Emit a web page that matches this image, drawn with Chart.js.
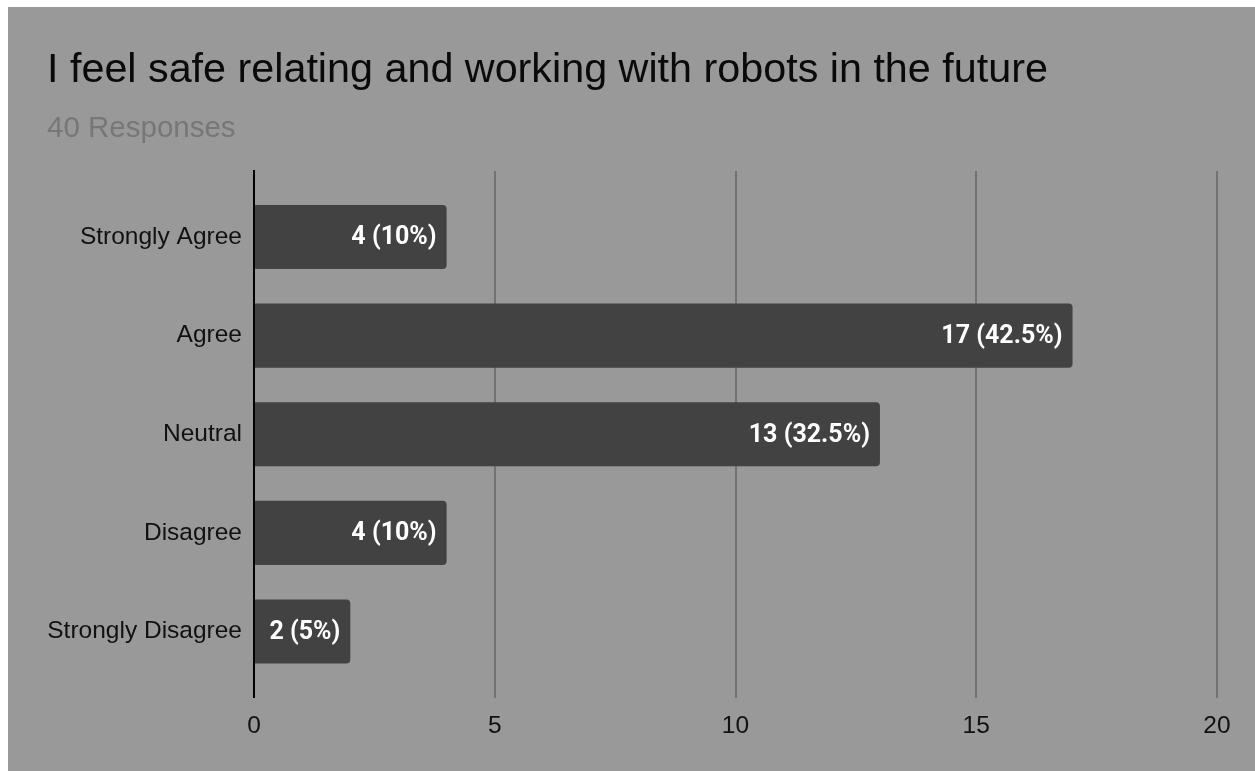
<!DOCTYPE html>
<html>
<head>
<meta charset="utf-8">
<title>I feel safe relating and working with robots in the future</title>
<script src="https://cdn.jsdelivr.net/npm/chart.js@4"></script>
<style>
  body { margin: 0; background: #fff; }
  #panel { position: absolute; left: 8px; top: 7px; width: 1247px; height: 764px; background: #999999; }
</style>
</head>
<body>
<div id="panel"><canvas id="safe"></canvas></div>
<script>
const categories = ['Strongly Agree', 'Agree', 'Neutral', 'Disagree', 'Strongly Disagree'];
const counts = [4, 17, 13, 4, 2];
const xTicks = [0, 5, 10, 15, 20];
const responses = 40;

Chart.defaults.font.family = '"Liberation Sans", Arial, sans-serif';

// "17 (42.5%)" inside the right end of each bar
const barLabels = {
  id: 'barLabels',
  afterDatasetsDraw(chart) {
    const ctx = chart.ctx;
    const meta = chart.getDatasetMeta(0);
    ctx.save();
    ctx.font = 'bold 25px Roboto, "Liberation Sans", sans-serif';
    ctx.fillStyle = '#ffffff';
    ctx.textAlign = 'right';
    ctx.textBaseline = 'middle';
    meta.data.forEach((bar, i) => {
      const v = counts[i];
      const pct = Math.round(v / responses * 1000) / 10;
      const { x, y } = bar.getProps(['x', 'y'], true);
      ctx.fillText(`${v} (${pct}%)`, x - 10, y + 1);
    });
    ctx.restore();
  }
};

const ctx = document.getElementById('safe');

new Chart(ctx, {
  type: 'bar',
  data: {
    datasets: [{
      data: counts.map((v, i) => ({ x: v, y: i })),
      backgroundColor: '#424242',
      borderRadius: 4,
      barPercentage: 0.65,
      categoryPercentage: 1
    }]
  },
  options: {
    indexAxis: 'y',
    responsive: true,
    maintainAspectRatio: false,
    animation: false,
    layout: { padding: { left: 39, right: 38, top: 0, bottom: 16 } },
    plugins: {
      legend: { display: false },
      tooltip: { enabled: false },
      title: {
        display: true,
        text: 'I feel safe relating and working with robots in the future',
        align: 'start',
        color: '#0a0a0a',
        font: { size: 41.3, weight: 'normal' },
        padding: { top: 39, bottom: 0 }
      },
      subtitle: {
        display: true,
        text: responses + ' Responses',
        align: 'start',
        color: '#777777',
        font: { size: 29.5 },
        padding: { top: 16, bottom: 24 }
      }
    },
    scales: {
      x: {
        type: 'linear',
        min: 0,
        max: 20,
        afterBuildTicks: (scale) => { scale.ticks = xTicks.map(v => ({ value: v })); },
        grid: { color: '#727272', lineWidth: 2, drawTicks: false },
        border: { display: false },
        ticks: { color: '#111111', font: { size: 24.5 }, padding: 14 }
      },
      y: {
        type: 'linear',
        reverse: true,
        offset: false,
        min: -0.67,
        max: 4.67,
        afterBuildTicks: (scale) => { scale.ticks = categories.map((c, i) => ({ value: i })); },
        // label column width: widest label + gap to the axis line
        afterFit: (scale) => { scale.width = 207; },
        grid: { display: false, drawTicks: false },
        border: { display: true, color: '#000000', width: 2, z: 1 },
        ticks: {
          color: '#111111',
          font: { size: 24.5 },
          padding: 12,
          callback: (v) => categories[v]
        }
      }
    }
  },
  plugins: [barLabels]
});
</script>
</body>
</html>
